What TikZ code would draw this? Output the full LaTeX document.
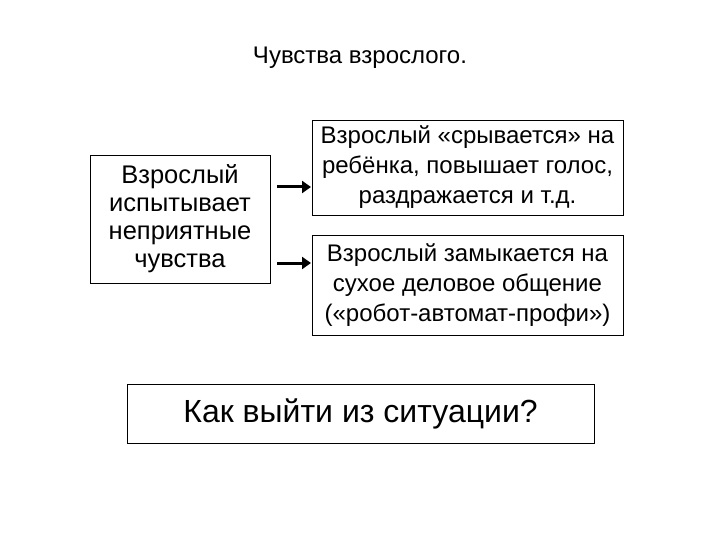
\documentclass[tikz,border=0pt]{standalone}
\usepackage{fontspec}
\setmainfont{Liberation Sans}
\usetikzlibrary{arrows.meta}
\begin{document}
\begin{tikzpicture}[x=1pt,y=-1pt,
  box/.style={draw,line width=0.8pt,align=center,inner sep=0pt,font=\fontsize{24}{30}\selectfont},
  arr/.style={line width=3pt,-{Triangle[length=9pt,width=12pt]}}]
\useasboundingbox (0,0) rectangle (720,540);
\node (title) at (360,58) {\fontsize{24}{28}\selectfont Чувства взрослого.};
\node[box,minimum width=180pt,minimum height=128pt,font=\fontsize{25.5}{28}\selectfont] (left) at (180,219) {Взрослый\\испытывает\\неприятные\\чувства};
\node[box,minimum width=311pt,minimum height=95pt] (r1) at (467.5,167.5) {Взрослый «срывается» на\\ребёнка, повышает голос,\\раздражается и т.д.};
\node[box,minimum width=311pt,minimum height=100pt] (r2) at (467.5,285) {Взрослый замыкается на\\сухое деловое общение\\(«робот-автомат-профи»)};
\node[box,minimum width=467pt,minimum height=59pt,font=\fontsize{32}{36}\selectfont] (q) at (360.5,413.5) {Как выйти из ситуации?};
\coordinate (a1) at (277,187); \coordinate (b1) at (311,187);
\coordinate (a2) at (277,263); \coordinate (b2) at (311,263);
\draw[arr] (a1) -- (b1);
\draw[arr] (a2) -- (b2);
\end{tikzpicture}
\end{document}
